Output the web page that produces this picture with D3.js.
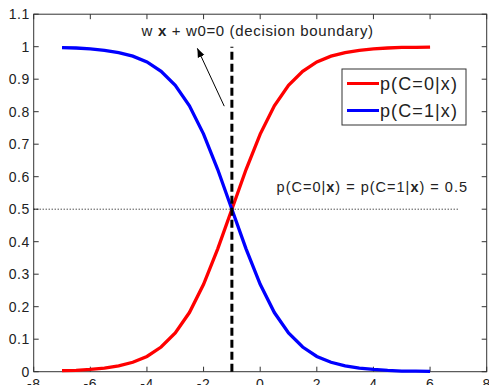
<!DOCTYPE html>
<html>
<head>
<meta charset="utf-8">
<script src="https://cdn.jsdelivr.net/npm/d3@7"></script>
<style>
  body { margin: 0; background: #fff; }
  text { font-family: "Liberation Sans", Arial, sans-serif; fill: #222; }
</style>
</head>
<body>
<div id="chart"></div>
<script>
// values
const xs = [-7, -6.5, -6, -5.5, -5, -4.5, -4, -3.5, -3, -2.5, -2, -1.5, -1,
            -0.5, 0, 0.5, 1, 1.5, 2, 2.5, 3, 3.5, 4, 4.5, 5, 5.5, 6];
const pC0 = [0.003, 0.004, 0.007, 0.011, 0.018, 0.029, 0.047, 0.076, 0.119, 0.182, 0.269, 0.378, 0.5,
             0.622, 0.731, 0.818, 0.881, 0.924, 0.953, 0.971, 0.982, 0.989, 0.993, 0.996, 0.998, 0.998, 0.999];
const pC1 = [0.997, 0.996, 0.993, 0.989, 0.982, 0.971, 0.953, 0.924, 0.881, 0.818, 0.731, 0.622, 0.5,
             0.378, 0.269, 0.182, 0.119, 0.076, 0.047, 0.029, 0.018, 0.011, 0.007, 0.004, 0.002, 0.002, 0.001];
const xTicks = [-8, -6, -4, -2, 0, 2, 4, 6, 8];
const yTicks = [0, 0.1, 0.2, 0.3, 0.4, 0.5, 0.6, 0.7, 0.8, 0.9, 1, 1.1];
const boundaryX = -1;
const seriesNames = ["p(C=0|x)", "p(C=1|x)"];
const seriesColors = ["#ff0000", "#0000ff"];

const width = 489, height = 385;
const margin = {top: 14.2, right: 2.3, bottom: 13.3, left: 33.7};

const x = d3.scaleLinear().domain([-8, 8]).range([margin.left, width - margin.right]);
const y = d3.scaleLinear().domain([0, 1.1]).range([height - margin.bottom, margin.top]);

const svg = d3.select("#chart").append("svg")
    .attr("width", width)
    .attr("height", height);

// inner ticks on all four sides, matlab style
const tickLen = 5;
const frame = svg.append("g").attr("stroke", "#333").attr("stroke-width", 1);
xTicks.forEach(t => {
    frame.append("line").attr("x1", x(t)).attr("x2", x(t)).attr("y1", y(0)).attr("y2", y(0) - tickLen);
    frame.append("line").attr("x1", x(t)).attr("x2", x(t)).attr("y1", y(1.1)).attr("y2", y(1.1) + tickLen);
});
yTicks.forEach(t => {
    frame.append("line").attr("x1", x(-8)).attr("x2", x(-8) + tickLen).attr("y1", y(t)).attr("y2", y(t));
    frame.append("line").attr("x1", x(8)).attr("x2", x(8) - tickLen).attr("y1", y(t)).attr("y2", y(t));
});
frame.append("rect")
    .attr("x", x(-8)).attr("y", y(1.1))
    .attr("width", x(8) - x(-8)).attr("height", y(0) - y(1.1))
    .attr("fill", "none");

svg.append("g").selectAll("text")
    .data(xTicks)
    .join("text")
    .attr("x", d => x(d))
    .attr("y", y(0) + 17)
    .attr("text-anchor", "middle")
    .attr("font-size", 14)
    .attr("letter-spacing", 0.5)
    .text(d => d);

svg.append("g").selectAll("text")
    .data(yTicks)
    .join("text")
    .attr("x", x(-8) - 4)
    .attr("y", d => y(d))
    .attr("dy", "0.36em")
    .attr("text-anchor", "end")
    .attr("font-size", 14)
    .attr("letter-spacing", 0.5)
    .text(d => d3.format("~g")(d));

// curves
const line = d3.line()
    .x((d, i) => x(xs[i]))
    .y(d => y(d));

[pC0, pC1].forEach((s, i) => {
    svg.append("path")
        .attr("d", line(s))
        .attr("fill", "none")
        .attr("stroke", seriesColors[i])
        .attr("stroke-width", 3.3);
});

// p = 0.5 dotted
svg.append("line")
    .attr("x1", x(-8)).attr("x2", x(7))
    .attr("y1", y(0.5)).attr("y2", y(0.5))
    .attr("stroke", "#000")
    .attr("stroke-width", 1)
    .attr("stroke-dasharray", "1,2");

// decision boundary
svg.append("line")
    .attr("x1", x(boundaryX)).attr("x2", x(boundaryX))
    .attr("y1", y(0)).attr("y2", y(1))
    .attr("stroke", "#000")
    .attr("stroke-width", 3)
    .attr("stroke-dasharray", "8,4");

// arrow
svg.append("defs").append("marker")
    .attr("id", "head")
    .attr("viewBox", "0 0 10 10")
    .attr("refX", 10).attr("refY", 5)
    .attr("markerWidth", 9).attr("markerHeight", 9)
    .attr("markerUnits", "userSpaceOnUse")
    .attr("orient", "auto")
    .append("path")
    .attr("d", "M0,1 L10,5 L0,9 Z")
    .attr("fill", "#000");

svg.append("line")
    .attr("x1", x(-1.27)).attr("y1", y(0.817))
    .attr("x2", x(-2.22)).attr("y2", y(0.995))
    .attr("stroke", "#000")
    .attr("stroke-width", 1)
    .attr("marker-end", "url(#head)");

const note = svg.append("text")
    .attr("x", x(-4.19)).attr("y", y(1.033))
    .attr("font-size", 15)
    .attr("letter-spacing", 0.65);
note.append("tspan").text("w ");
note.append("tspan").attr("font-weight", "bold").text("x");
note.append("tspan").text(" + w0=0 (decision boundary)");

const eq = svg.append("text")
    .attr("x", x(0.58)).attr("y", y(0.554))
    .attr("font-size", 14.5)
    .attr("letter-spacing", 1);
eq.append("tspan").text("p(C=0|");
eq.append("tspan").attr("font-weight", "bold").text("x");
eq.append("tspan").text(") = p(C=1|");
eq.append("tspan").attr("font-weight", "bold").text("x");
eq.append("tspan").text(") = 0.5");

// legend
const legend = svg.append("g").attr("transform", "translate(342,69)");
legend.append("rect")
    .attr("width", 124).attr("height", 56)
    .attr("fill", "#fff")
    .attr("stroke", "#333");
seriesNames.forEach((name, i) => {
    const yy = 14.5 + i * 27;
    legend.append("line")
        .attr("x1", 5).attr("x2", 37)
        .attr("y1", yy).attr("y2", yy)
        .attr("stroke", seriesColors[i])
        .attr("stroke-width", 3);
    legend.append("text")
        .attr("x", 38).attr("y", yy)
        .attr("dy", "0.35em")
        .attr("font-size", 18)
        .attr("letter-spacing", 1.1)
        .text(name);
});
</script>
</body>
</html>
